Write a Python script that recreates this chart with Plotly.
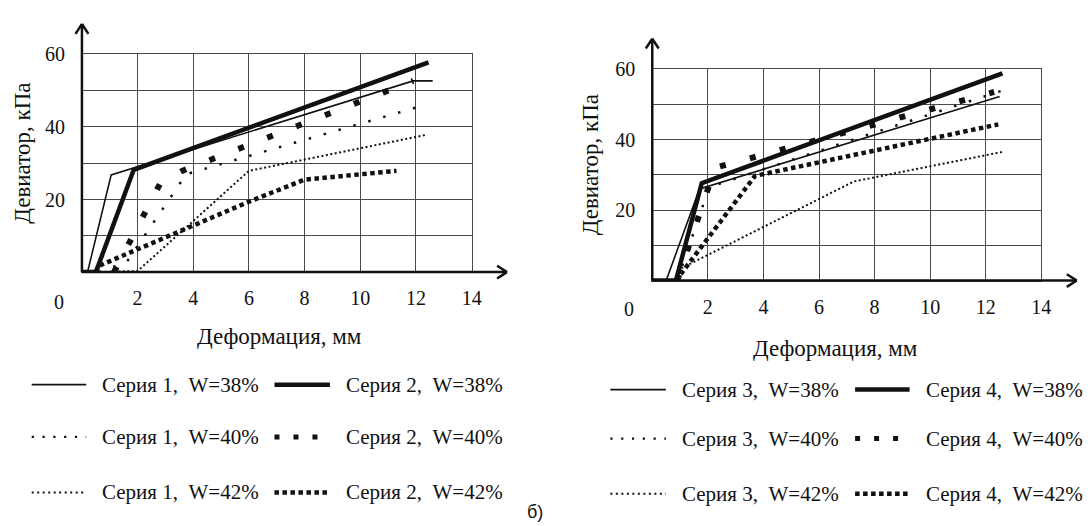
import plotly.graph_objects as go

W, H = 1091, 526


def px(x):
    return x / W


def py(y):
    return 1 - y / H


FONT = "Liberation Serif, Times New Roman, serif"
BLACK = "#111111"
GRID = "#4a4a4a"

# ---------------- data (left chart: series 1 & 2) ----------------
x_s1_w38 = [0.2, 1.05, 11.9, 12.6]
y_s1_w38 = [0, 26.8, 52.7, 52.7]
x_s2_w38 = [0.0, 0.5, 1.86, 12.45]
y_s2_w38 = [0, 0, 28.2, 57.8]
x_s1_w40 = [0.6, 1.6, 3.75, 12.3]
y_s1_w40 = [0, 2.7, 27.0, 46.0]
x_s2_w40 = [1.15, 2.85, 3.6, 11.9]
y_s2_w40 = [0, 25.0, 27.9, 52.7]
x_s1_w42 = [0.5, 2.0, 6.0, 12.35]
y_s1_w42 = [0, 0.3, 27.9, 37.8]
x_s2_w42 = [0.5, 0.6, 6.0, 8.0, 11.3]
y_s2_w42 = [0, 1.7, 19.4, 25.5, 27.9]

# ---------------- data (right chart: series 3 & 4) ----------------
x_s3_w38 = [0.0, 0.5, 1.7, 12.5]
y_s3_w38 = [0, 0, 26.0, 52.2]
x_s4_w38 = [0.0, 0.85, 1.78, 12.6]
y_s4_w38 = [0, 0, 27.6, 58.8]
x_s3_w40 = [0.9, 1.0, 2.05, 12.55]
y_s3_w40 = [0, 2.4, 26.5, 53.8]
x_s4_w40 = [0.9, 2.0, 2.26, 12.3]
y_s4_w40 = [0, 26.0, 32.0, 53.5]
x_s3_w42 = [0.9, 1.0, 7.25, 12.6]
y_s3_w42 = [0, 3.3, 28.1, 36.5]
x_s4_w42 = [0.85, 3.7, 12.45]
y_s4_w42 = [0, 29.7, 44.3]

# ---------------- tick labels ----------------
x_tickvals = [2, 4, 6, 8, 10, 12, 14]
x_ticktext = ["2", "4", "6", "8", "10", "12", "14"]
y_tickvals = [10, 20, 30, 40, 50, 60]
y_ticktext = ["", "20", "", "40", "", "60"]
x_zero_label = "0"

x_title = "Деформация, мм"
y_title = "Девиатор, кПа"

legend_left = ["Серия 1,\u00a0 W=38%", "Серия 2,\u00a0 W=38%",
               "Серия 1,\u00a0 W=40%", "Серия 2,\u00a0 W=40%",
               "Серия 1,\u00a0 W=42%", "Серия 2,\u00a0 W=42%"]
legend_right = ["Серия 3,\u00a0 W=38%", "Серия 4,\u00a0 W=38%",
                "Серия 3,\u00a0 W=40%", "Серия 4,\u00a0 W=40%",
                "Серия 3,\u00a0 W=42%", "Серия 4,\u00a0 W=42%"]
caption = "б)"

# line styles: (width, dash)
STY = {
    "w38a": (1.6, "solid"),
    "w38b": (4.5, "solid"),
    "w40a": (2.5, "2.5px,13px"),
    "w40b": (6, "6px,25px"),
    "w42a": (2, "2px,2.5px"),
    "w42b": (4.5, "4.5px,3.5px"),
}
LEG_STY = {
    "w38a": (1.8, "solid"),
    "w38b": (4.5, "solid"),
    "w40a": (2.2, "2.2px,8.6px"),
    "w40b": (5, "5px,14px"),
    "w42a": (2, "2px,3.5px"),
    "w42b": (4.5, "4.5px,3.5px"),
}

left_series = [
    (x_s1_w38, y_s1_w38, "w38a"), (x_s2_w38, y_s2_w38, "w38b"),
    (x_s1_w40, y_s1_w40, "w40a"), (x_s2_w40, y_s2_w40, "w40b"),
    (x_s1_w42, y_s1_w42, "w42a"), (x_s2_w42, y_s2_w42, "w42b"),
]
right_series = [
    (x_s3_w38, y_s3_w38, "w38a"), (x_s4_w38, y_s4_w38, "w38b"),
    (x_s3_w40, y_s3_w40, "w40a"), (x_s4_w40, y_s4_w40, "w40b"),
    (x_s3_w42, y_s3_w42, "w42a"), (x_s4_w42, y_s4_w42, "w42b"),
]

fig = go.Figure()
for (xs, ys, st), name in zip(left_series, legend_left):
    w, d = STY[st]
    fig.add_trace(go.Scatter(x=xs, y=ys, mode="lines", name=name,
                             line=dict(color=BLACK, width=w, dash=d),
                             xaxis="x", yaxis="y", showlegend=False))
for (xs, ys, st), name in zip(right_series, legend_right):
    w, d = STY[st]
    fig.add_trace(go.Scatter(x=xs, y=ys, mode="lines", name=name,
                             line=dict(color=BLACK, width=w, dash=d),
                             xaxis="x2", yaxis="y2", showlegend=False))

tickfont = dict(family=FONT, size=20, color=BLACK)


def xax(domain):
    return dict(domain=domain, range=[0, 14], tickmode="array",
                tickvals=x_tickvals, ticktext=x_ticktext, showgrid=True,
                gridcolor=GRID, gridwidth=1, showline=True, mirror=True,
                linecolor=GRID, linewidth=1, zeroline=False, ticks="",
                tickfont=tickfont, ticklabelstandoff=8, fixedrange=True)


def yax(domain, anchor):
    return dict(domain=domain, range=[0, 60], tickmode="array",
                tickvals=y_tickvals, ticktext=y_ticktext, showgrid=True,
                gridcolor=GRID, gridwidth=1, showline=True, mirror=True,
                linecolor=GRID, linewidth=1, zeroline=False, ticks="",
                tickfont=tickfont, ticklabelstandoff=12, anchor=anchor,
                fixedrange=True)


# geometry in pixels
L = dict(x0=82.7, x1=476.0, yb=266.7, yt=44.3, arrow_top=13.3, arrow_right=511.7)
R = dict(x0=658.3, x1=1051.0, yb=275.3, yt=59.3, arrow_top=28.3, arrow_right=1086.7)

fig.update_layout(
    width=W, height=H, margin=dict(l=0, r=0, t=0, b=0),
    paper_bgcolor="white", plot_bgcolor="white", showlegend=False,
    xaxis=dict(xax([px(L["x0"]), px(L["x1"])]), anchor="y"),
    yaxis=yax([py(L["yb"]), py(L["yt"])], "x"),
    xaxis2=dict(xax([px(R["x0"]), px(R["x1"])]), anchor="y2"),
    yaxis2=yax([py(R["yb"]), py(R["yt"])], "x2"),
)

shapes = []
annotations = []


def seg(x0, y0, x1, y1, width=2.5, dash="solid"):
    shapes.append(dict(type="line", xref="paper", yref="paper",
                       x0=px(x0), y0=py(y0), x1=px(x1), y1=py(y1),
                       line=dict(color=BLACK, width=width, dash=dash),
                       layer="above"))


def text(t, x, y, font, xanchor="center", angle=0):
    annotations.append(dict(text=t, xref="paper", yref="paper",
                            x=px(x), y=py(y), xanchor=xanchor,
                            yanchor="middle", textangle=angle,
                            showarrow=False, font=font))


for g in (L, R):
    # axes with arrowheads
    seg(g["x0"], g["yb"], g["x0"], g["arrow_top"])
    seg(g["x0"] - 6.5, g["arrow_top"] + 10, g["x0"], g["arrow_top"])
    seg(g["x0"] + 6.5, g["arrow_top"] + 10, g["x0"], g["arrow_top"])
    seg(g["x0"], g["yb"], g["arrow_right"], g["yb"])
    seg(g["arrow_right"] - 10, g["yb"] - 6.5, g["arrow_right"], g["yb"])
    seg(g["arrow_right"] - 10, g["yb"] + 6.5, g["arrow_right"], g["yb"])

# "0" labels left of the origin
for xr, yr, sy in (("x", "y", -30), ("x2", "y2", -28)):
    annotations.append(dict(text=x_zero_label, xref=xr, yref=yr, x=0, y=0,
                            xshift=-23, yshift=sy, showarrow=False,
                            xanchor="center", yanchor="middle",
                            font=tickfont))

titlefont = dict(family=FONT, size=23, color=BLACK)
text(y_title, 23, 145, titlefont, angle=-90)
text(y_title, 596, 157, titlefont, angle=-90)
text(x_title, 282, 332, titlefont)
text(x_title, 843, 345, titlefont)
text(caption, 540, 512, dict(family="Liberation Sans", size=18, color=BLACK))

legfont = dict(family=FONT, size=21, color=BLACK)
keys = ["w38a", "w38b", "w40a", "w40b", "w42a", "w42b"]


def legend(labels, rows, cols):
    for i, (lab, key) in enumerate(zip(labels, keys)):
        r, c = divmod(i, 2)
        y = rows[r]
        sx0, sx1, tx = cols[c]
        w, d = LEG_STY[key]
        seg(sx0, y, sx1, y, width=w, dash=d)
        text(lab, tx, y, legfont, xanchor="left")


legend(legend_left, [381.7, 435, 491.7], [(32, 87, 101), (277, 333, 347)])
legend(legend_right, [386.7, 436.7, 493], [(616, 672, 686), (863, 918, 933)])

fig.update_layout(shapes=shapes, annotations=annotations)
fig.write_html("out.html", config={"displayModeBar": False},
               post_script="document.body.style.margin='0px';")
